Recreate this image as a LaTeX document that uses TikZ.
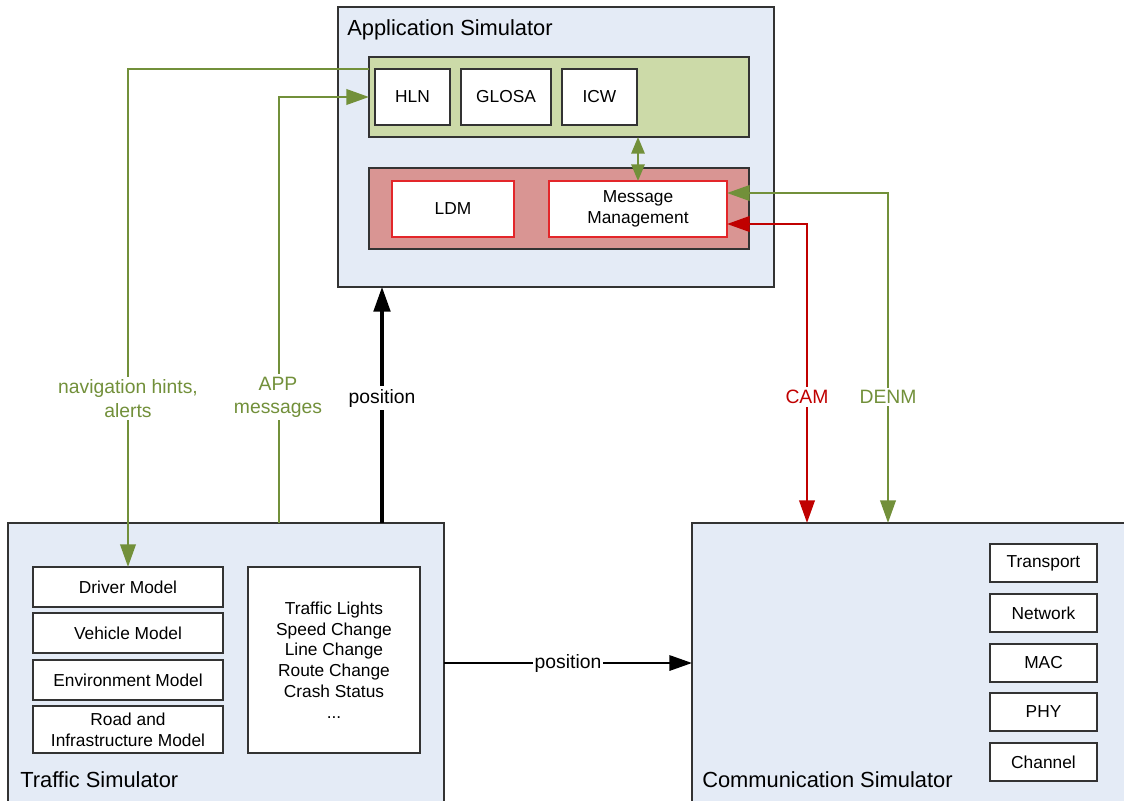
\documentclass[tikz,border=0pt]{standalone}
\usepackage{fontspec}
\setmainfont{Liberation Sans}
\usetikzlibrary{arrows.meta}
\definecolor{simfill}{HTML}{E4EBF6}
\definecolor{appgreen}{HTML}{CCDAA8}
\definecolor{appred}{HTML}{D99593}
\definecolor{lgreen}{HTML}{72903A}
\definecolor{lred}{HTML}{C00000}
\definecolor{bred}{HTML}{E3262A}
\definecolor{edgecol}{HTML}{333333}
\newcommand{\ftitle}{\fontsize{16.4}{19.5}\selectfont}
\newcommand{\finner}{\fontsize{13}{15.6}\selectfont}
\newcommand{\flab}{\fontsize{14.5}{17.4}\selectfont}
\tikzset{
  wh/.style 2 args={minimum width=#1*0.75pt, minimum height=#2*0.75pt},
  sim/.style={draw=edgecol, line width=1.5pt, fill=simfill, inner sep=0pt, outer sep=0pt},
  simtitle/.style={inner sep=0pt, font=\ftitle, text=black},
  ggrp/.style={draw=edgecol, line width=1.4pt, fill=appgreen, inner sep=0pt, outer sep=0pt},
  rgrp/.style={draw=edgecol, line width=1.4pt, fill=appred, inner sep=0pt, outer sep=0pt},
  wbox/.style={draw=edgecol, line width=1.4pt, fill=white, inner sep=0pt, outer sep=0pt, font=\finner, align=center},
  rbox/.style={draw=bred, line width=1.4pt, fill=white, inner sep=0pt, outer sep=0pt, font=\finner, align=center},
  gline/.style={draw=lgreen, line width=2.1pt},
  rline/.style={draw=lred, line width=2.1pt},
  bline/.style={draw=black, line width=2.3pt},
  lab/.style={fill=white, inner sep=2pt, font=\flab, align=center},
  gtip/.tip={Triangle[length=17pt,width=11.5pt]},
  stip/.tip={Triangle[length=12.5pt,width=10pt]},
  btip/.tip={Triangle[length=18.5pt,width=12.5pt]},
}
\begin{document}
\begin{tikzpicture}[x=0.75pt,y=-0.75pt]
\clip (0,0) rectangle (1124,800);
\fill[white] (0,0) rectangle (1124,800);

% Application simulator
\node[sim, wh={436}{280}] (app) at (556,147) {};
\node[simtitle, anchor=base west] (apptitle) at (347,35) {Application Simulator};
\node[ggrp, wh={380}{80}] (green) at (559,97) {};
\node[wbox, wh={75}{56}] (hln) at (412.5,97) {HLN};
\node[wbox, wh={90}{56}] (glosa) at (506,97) {GLOSA};
\node[wbox, wh={75}{56}] (icw) at (599.5,97) {ICW};
\node[rgrp, wh={380}{81}] (red) at (559,208.5) {};
\node[rbox, wh={122}{56}] (ldm) at (453,209) {LDM};
\node[rbox, wh={178}{56}] (mm) at (638,209) {Message\\Management};

% Traffic simulator
\node[sim, wh={436}{280}] (traffic) at (226,663) {};
\node[simtitle, anchor=base west] (traffictitle) at (20,787) {Traffic Simulator};
\node[wbox, wh={190}{40}] (driver) at (128,587) {Driver Model};
\node[wbox, wh={190}{40}] (vehicle) at (128,633) {Vehicle Model};
\node[wbox, wh={190}{40}] (env) at (128,680) {Environment Model};
\node[wbox, wh={190}{47}] (road) at (128,729.5) {Road and\\Infrastructure Model};
\node[wbox, wh={172}{186}] (events) at (334,660) {Traffic Lights\\Speed Change\\Line Change\\Route Change\\Crash Status\\...};

% Communication simulator
\node[sim, wh={448}{280}] (comm) at (916,663) {};
\node[simtitle, anchor=base west] (commtitle) at (702,787) {Communication Simulator};
\node[wbox, wh={107}{38}] (transport) at (1043.5,563) {Transport};
\node[wbox, wh={107}{38}] (network) at (1043.5,613) {Network};
\node[wbox, wh={107}{38}] (mac) at (1043.5,663) {MAC};
\node[wbox, wh={107}{38}] (phy) at (1043.5,712) {PHY};
\node[wbox, wh={107}{38}] (channel) at (1043.5,762) {Channel};

% connectors
\coordinate (appx) at (279,0);
\coordinate (posx) at (382,0);
\coordinate (camx) at (807,0);
\coordinate (denmx) at (888,0);

\draw[gline, -gtip] (green.west |- hln.north) -| (driver.north);
\draw[gline, -gtip] (appx |- traffic.north) |- (green.west);
\draw[bline, -btip] (posx |- traffic.north) -- (posx |- app.south);
\draw[gline, line width=1.5pt, stip-stip] (green.south -| mm.north) -- (mm.north);
\draw[rline, gtip-gtip] ([yshift=-11.25pt]mm.east) -| (camx |- comm.north);
\draw[gline, gtip-gtip] ([yshift=12pt]mm.east) -| (denmx |- comm.north);
\draw[black, line width=1.7pt, -gtip] (traffic.east) -- (comm.west);

% labels
\node[lab, text=lgreen] (navlab) at (128,398.5) {navigation hints,\\alerts};
\node[lab, text=lgreen] (applab) at (278,397) {APP\\messages};
\node[lab, text=black] (poslab) at (382,398) {position};
\node[lab, text=lred] (camlab) at (807,397) {CAM};
\node[lab, text=lgreen] (denmlab) at (888,397) {DENM};
\node[lab, text=black, inner sep=1pt] (poslab2) at (568,663) {position};
\end{tikzpicture}
\end{document}
